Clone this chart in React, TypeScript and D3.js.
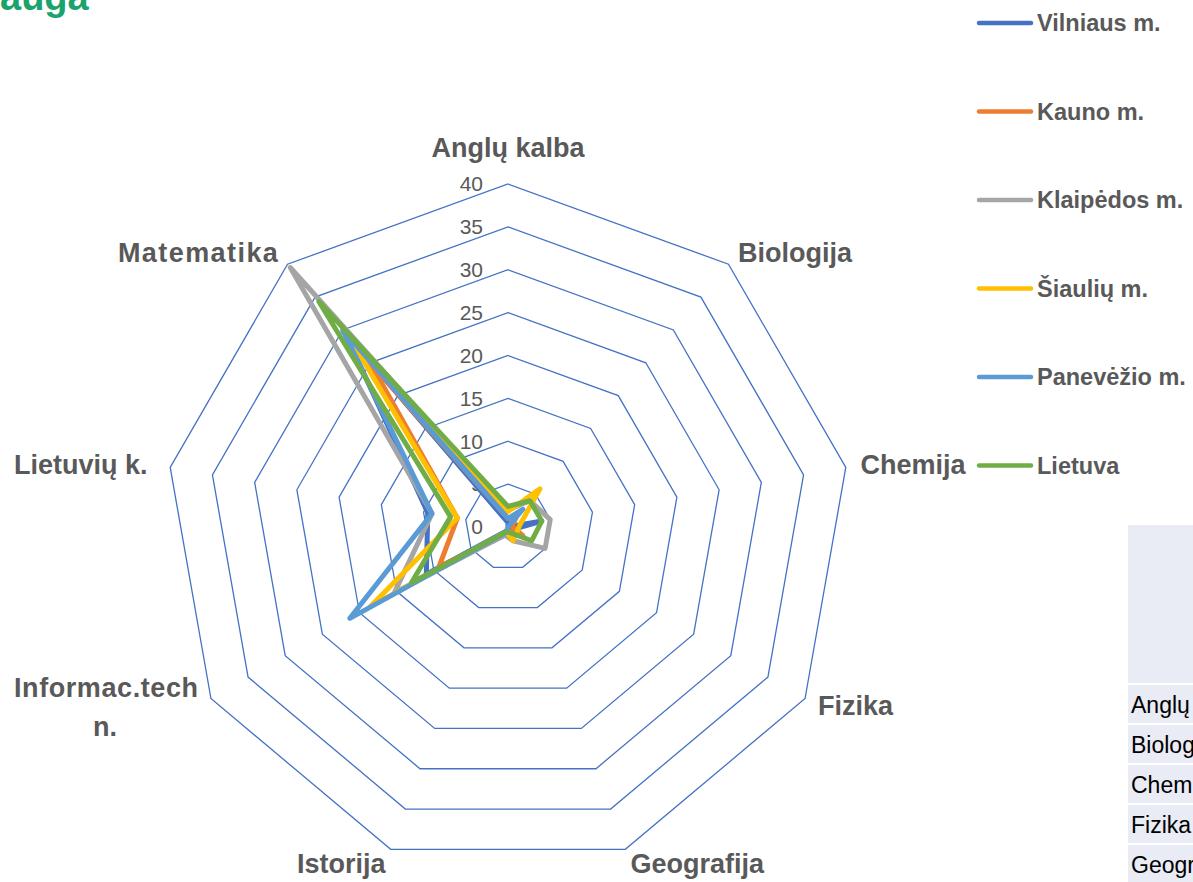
import React from "react";
import * as d3 from "d3";

const categories = ["Anglų kalba", "Biologija", "Chemija", "Fizika", "Geografija", "Istorija", "Informac.techn.", "Lietuvių k.", "Matematika"];
const seriesNames = ["Vilniaus m.", "Kauno m.", "Klaipėdos m.", "Šiaulių m.", "Panevėžio m.", "Lietuva"];
const seriesColors = ["#4472c4", "#ed7d31", "#a5a5a5", "#ffc000", "#5b9bd5", "#70ad47"];
const vilnius = [0.5, 0, 4, 0.6, 0.3, 0.5, 11, 9.5, 29.5];
const kaunas = [1, 1.5, 0.5, 2, 0.5, 1, 9.3, 6, 25];
const klaipeda = [2, 4, 5, 5, 1.7, 1, 15.3, 9, 39.5];
const siauliai = [1.8, 5.8, 1.4, 1.2, 1.7, 0.6, 18.5, 6, 28.5];
const panevezys = [1, 2.7, 0, 0, 0, 0.7, 21.3, 9, 30];
const lietuva = [2.4, 4, 4, 3.2, 0.7, 0.6, 13, 6.8, 34.3];
const seriesValues = [vilnius, kaunas, klaipeda, siauliai, panevezys, lietuva];
const tickValues = [0, 5, 10, 15, 20, 25, 30, 35, 40];
const tableRows = ["Anglų kalba", "Biologija", "Chemija", "Fizika", "Geografija"];

const W = 1193;
const H = 882;
const cx = 508;
const cy = 527;
const R = 343;

export default function App() {
  const r = d3.scaleLinear().domain([0, 40]).range([0, R]);
  const n = categories.length;
  const ang = (i: number) => (i * 2 * Math.PI) / n;
  const line = d3
    .lineRadial<number>()
    .angle((_d, i) => ang(i))
    .radius((d) => r(d))
    .curve(d3.curveLinearClosed);
  const ringPath = (v: number) => line(categories.map(() => v)) as string;
  const labelFont = "'Liberation Sans', Arial, sans-serif";
  const gray = "#595959";

  return (
    <svg width={W} height={H} style={{ position: "absolute", left: 0, top: 0, background: "#fff" }} fontFamily={labelFont}>
      <text x={0} y={10} fontSize={38} fontWeight="bold" fill="#1ba36e">auga</text>

      <g transform={`translate(${cx},${cy})`}>
        {tickValues.filter((v) => v > 0).map((v) => (
          <path key={v} d={ringPath(v)} fill="none" stroke="#4472c4" strokeWidth={1.3} />
        ))}
        {tickValues.map((v) => (
          <text key={v} x={-25} y={-r(v)} dy="0.35em" textAnchor="end" fontSize={21} fill={gray}>{v}</text>
        ))}
        {seriesValues.map((vals, k) => (
          <path key={k} d={line(vals) as string} fill="none" stroke={seriesColors[k]} strokeWidth={5} strokeLinejoin="round" strokeLinecap="round" />
        ))}
        {categories.map((c, i) => {
          const a = ang(i);
          const s = Math.sin(a);
          const co = Math.cos(a);
          const rr = R + 15;
          let x = rr * s;
          let y = -rr * co;
          if (co > 0.9) y -= 21;
          if (s < -0.9) x -= 8;
          const anchor = s > 0.1 ? "start" : s < -0.1 ? "end" : "middle";
          if (c === "Informac.techn.") {
            return (
              <g key={c}>
                <text x={x} y={y - 18} dy="0.35em" textAnchor="end" fontSize={27} fontWeight="bold" fill={gray} textLength={184}>Informac.tech</text>
                <text x={x - 93} y={y + 21} dy="0.35em" textAnchor="middle" fontSize={27} fontWeight="bold" fill={gray}>n.</text>
              </g>
            );
          }
          const tl = c === "Matematika" ? 160 : undefined;
          return (
            <text key={c} x={x} y={y} dy="0.35em" textAnchor={anchor} fontSize={27} fontWeight="bold" fill={gray} textLength={tl}>{c}</text>
          );
        })}
      </g>

      {seriesNames.map((name, k) => {
        const y = 23 + k * 88.5;
        return (
          <g key={name}>
            <line x1={979} x2={1031} y1={y} y2={y} stroke={seriesColors[k]} strokeWidth={4.5} strokeLinecap="round" />
            <text x={1037} y={y} dy="0.35em" fontSize={23.5} fontWeight="bold" fill={gray}>{name}</text>
          </g>
        );
      })}

      <rect x={1128} y={525} width={80} height={158} fill="#e9ebf5" />
      {tableRows.map((t, i) => {
        const y0 = 685 + i * 40;
        return (
          <g key={t}>
            <rect x={1128} y={y0} width={80} height={38} fill="#e9ebf5" />
            <text x={1131} y={y0 + 20} dy="0.35em" fontSize={23} fill="#000">{t}</text>
          </g>
        );
      })}
    </svg>
  );
}
